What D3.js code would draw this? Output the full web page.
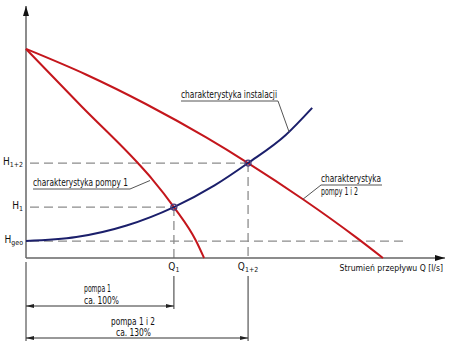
<!DOCTYPE html>
<html>
<head>
<meta charset="utf-8">
<script src="https://cdnjs.cloudflare.com/ajax/libs/d3/7.8.5/d3.min.js"></script>
<style>
  body { margin: 0; background: #fff; }
  svg text { font-family: "Liberation Sans Narrow", "DejaVu Sans Condensed", "Roboto", sans-serif; fill: #111; }
</style>
</head>
<body>
<svg id="chart" width="450" height="349"></svg>
<script>
// readings from the picture, in axis units (Q and H both 0..100)
var pump1 = [[0, 85.0], [13.4, 61.4], [26.7, 38.6], [30.1, 32.1], [35.3, 20.7], [40.6, 6.9], [42.5, 0]];
var pump12 = [[0, 85.0], [14.3, 74.6], [28.6, 62.6], [43.0, 49.0], [53.0, 38.6], [66.1, 23.9], [78.8, 8.4], [85.2, 0]];
var installation = [[0, 6.9], [12, 8.5], [24, 13.2], [35.3, 20.7], [45, 29.5], [53, 38.6], [62, 50.0], [68.3, 61.0]];

var hTicks = [{name: "H", sub: "geo", value: 6.9}, {name: "H", sub: "1", value: 20.7}, {name: "H", sub: "1+2", value: 38.6}];
var qTicks = [{name: "Q", sub: "1", value: 35.3}, {name: "Q", sub: "1+2", value: 53.0}];
var hgeoEnd = 90.9;

var svg = d3.select("#chart");
var x = d3.scaleLinear().domain([0, 100]).range([26, 445]);
var y = d3.scaleLinear().domain([0, 100]).range([258, 12]);

var red = "#c4161c", navy = "#1b1f6b", dashGray = "#8c8c8c", axisGray = "#666";

var line = d3.line().x(d => x(d[0])).y(d => y(d[1])).curve(d3.curveMonotoneX);

// dashed helper lines
var dashes = svg.append("g").attr("stroke", dashGray).attr("stroke-width", 1.3).attr("stroke-dasharray", "9,5");
dashes.append("line").attr("x1", 30).attr("x2", x(hgeoEnd)).attr("y1", y(hTicks[0].value)).attr("y2", y(hTicks[0].value));
dashes.append("line").attr("x1", 30).attr("x2", x(qTicks[0].value)).attr("y1", y(hTicks[1].value)).attr("y2", y(hTicks[1].value));
dashes.append("line").attr("x1", 30).attr("x2", x(qTicks[1].value)).attr("y1", y(hTicks[2].value)).attr("y2", y(hTicks[2].value));
dashes.append("line").attr("x1", x(qTicks[0].value)).attr("x2", x(qTicks[0].value)).attr("y1", y(hTicks[1].value)).attr("y2", y(0));
dashes.append("line").attr("x1", x(qTicks[1].value)).attr("x2", x(qTicks[1].value)).attr("y1", y(hTicks[2].value)).attr("y2", y(0));

// axes
svg.append("defs").append("marker")
  .attr("id", "arr").attr("viewBox", "0 0 10 6").attr("refX", 10).attr("refY", 3)
  .attr("markerWidth", 10).attr("markerHeight", 6).attr("markerUnits", "userSpaceOnUse").attr("orient", "auto")
  .append("path").attr("d", "M0,0L10,3L0,6Z").attr("fill", "#111");
svg.select("defs").append("marker")
  .attr("id", "dim").attr("viewBox", "0 0 8 4").attr("refX", 8).attr("refY", 2)
  .attr("markerWidth", 8).attr("markerHeight", 4).attr("markerUnits", "userSpaceOnUse").attr("orient", "auto-start-reverse")
  .append("path").attr("d", "M0,0L8,2L0,4Z").attr("fill", "#222");

svg.append("line").attr("x1", x(0)).attr("x2", x(0)).attr("y1", y(0)).attr("y2", 6)
  .attr("stroke", axisGray).attr("stroke-width", 1.5).attr("marker-end", "url(#arr)");
svg.append("line").attr("x1", x(0)).attr("x2", x(100)).attr("y1", y(0)).attr("y2", y(0))
  .attr("stroke", axisGray).attr("stroke-width", 1.5).attr("marker-end", "url(#arr)");

// curves
svg.append("path").datum(pump12).attr("d", line).attr("fill", "none").attr("stroke", red).attr("stroke-width", 2);
svg.append("path").datum(pump1).attr("d", line).attr("fill", "none").attr("stroke", red).attr("stroke-width", 2);
svg.append("path").datum(installation).attr("d", line).attr("fill", "none").attr("stroke", navy).attr("stroke-width", 2);

// operating points
svg.selectAll("circle.op").data([[qTicks[0].value, hTicks[1].value], [qTicks[1].value, hTicks[2].value]])
  .enter().append("circle").attr("cx", d => x(d[0])).attr("cy", d => y(d[1])).attr("r", 3)
  .attr("fill", "none").attr("stroke", "#4a3a7a").attr("stroke-width", 1.2);

// narrow text helper: the original uses a condensed face
function label(g, tx, ty, str, len, anchor) {
  return g.append("text").attr("x", tx).attr("y", ty).attr("text-anchor", anchor || "start")
    .attr("textLength", len).attr("lengthAdjust", "spacingAndGlyphs").text(str);
}

// tick labels
var hl = svg.selectAll("text.h").data(hTicks).enter().append("text")
  .attr("x", 23).attr("y", d => y(d.value) + 2).attr("text-anchor", "end").attr("font-size", 10);
hl.append("tspan").text(d => d.name);
hl.append("tspan").attr("font-size", 7).attr("dy", 2).text(d => d.sub);

var ql = svg.selectAll("text.q").data(qTicks).enter().append("text")
  .attr("x", d => x(d.value)).attr("y", 270).attr("text-anchor", "middle").attr("font-size", 10);
ql.append("tspan").text(d => d.name);
ql.append("tspan").attr("font-size", 7).attr("dy", 2).text(d => d.sub);

svg.append("text").attr("x", 443).attr("y", 271).attr("text-anchor", "end").attr("font-size", 8.6)
  .text("Strumień przepływu Q  [l/s]");

// annotations with leaders
var ann = svg.append("g").attr("font-size", 10);
function leader(pts) {
  svg.append("path").attr("d", d3.line()(pts)).attr("fill", "none").attr("stroke", "#555").attr("stroke-width", 1);
}
label(ann, 181, 98, "charakterystyka instalacji", 96);
leader([[181, 101], [278, 101], [x(62.8), y(51.2)]]);

label(ann, 33, 186, "charakterystyka pompy 1", 95);
leader([[33, 189], [130, 189], [x(29.6), y(31.5)]]);

label(ann, 321, 182, "charakterystyka", 60);
label(ann, 321, 195, "pompy 1 i 2", 37);
leader([[382, 185], [321, 185], [x(66.1), y(23.9)]]);

// dimension lines below the axis
var dim = svg.append("g").attr("stroke", "#333").attr("stroke-width", 1);
dim.append("line").attr("x1", x(0)).attr("x2", x(0)).attr("y1", 262).attr("y2", 341);
dim.append("line").attr("x1", x(qTicks[0].value)).attr("x2", x(qTicks[0].value)).attr("y1", 276).attr("y2", 309);
dim.append("line").attr("x1", x(qTicks[1].value)).attr("x2", x(qTicks[1].value)).attr("y1", 276).attr("y2", 341);
dim.append("line").attr("x1", x(0)).attr("x2", x(qTicks[0].value)).attr("y1", 306).attr("y2", 306)
  .attr("marker-start", "url(#dim)").attr("marker-end", "url(#dim)");
dim.append("line").attr("x1", x(0)).attr("x2", x(qTicks[1].value)).attr("y1", 338).attr("y2", 338)
  .attr("marker-start", "url(#dim)").attr("marker-end", "url(#dim)");

var bt = svg.append("g").attr("font-size", 10);
label(bt, 84, 292, "pompa 1", 27);
label(bt, 84, 304, "ca. 100%", 35);
label(bt, 111, 325, "pompa 1 i 2", 44);
label(bt, 116, 336, "ca. 130%", 35);
</script>
</body>
</html>
